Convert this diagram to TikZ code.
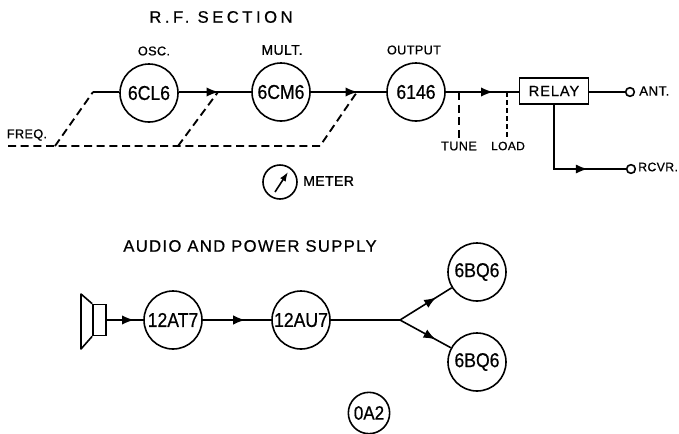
\documentclass[tikz,border=0pt]{standalone}
\usepackage{fontspec}
\setmainfont{Liberation Sans}
\newfontfamily\spaced[LetterSpace=8,FakeBold=0.6]{Liberation Sans}
\newfontfamily\spacedw[LetterSpace=21,FakeBold=0.6]{Liberation Sans}
\newfontfamily\spacedb[LetterSpace=6,FakeBold=0.6]{Liberation Sans}
\newfontfamily\narrowf[FakeStretch=0.88,FakeBold=0.6]{Liberation Sans}
\newfontfamily\labf[FakeBold=0.8,LetterSpace=3]{Liberation Sans}
\usetikzlibrary{arrows.meta,decorations.markings}
\tikzset{
  x=0.75pt,y=-0.75pt,
  tube/.style={draw,circle,line width=1.2pt,inner sep=0pt,minimum size=43.5pt,font=\narrowf\fontsize{15}{15}\selectfont},
  smalltube/.style={tube,minimum size=31pt,font=\narrowf\fontsize{14.5}{15}\selectfont},
  term/.style={draw,circle,line width=1.2pt,inner sep=0pt,minimum size=6.5pt},
  box/.style={draw,line width=1.2pt,inner sep=0pt,minimum width=52pt,minimum height=19.5pt,font=\spacedb\fontsize{11}{11}\selectfont},
  lab/.style={inner sep=0pt,font=\labf\fontsize{9.5}{10}\selectfont},
  side/.style={lab,anchor=west,font=\labf\fontsize{10}{10}\selectfont},
  title/.style={inner sep=0pt,font=\spaced\fontsize{12.5}{13}\selectfont},
  wire/.style={line width=1.2pt},
  ctrl/.style={line width=1.4pt,dash pattern=on 6pt off 3.5pt},
  mid/.style={postaction={decorate},decoration={markings,mark=at position #1 with {\arrow{Latex[length=9pt,width=7pt]}}}}
}
\begin{document}
\begin{tikzpicture}
\useasboundingbox (0,0) rectangle (679,433);
\node[title,font=\spacedw\fontsize{12.5}{13}\selectfont] (t1) at (221,17) {R.F. SECTION};
\node[title] (t2) at (250,246) {AUDIO AND POWER SUPPLY};
\node[lab] (losc) at (154,51) {OSC.};
\node[lab,font=\labf\fontsize{10.5}{10}\selectfont] (lmult) at (282,50) {MULT.};
\node[lab] (lout) at (414,50) {OUTPUT};
\node[lab] (lfreq) at (27,135) {FREQ.};
\node[tube] (a) at (149,93) {6CL6};
\node[tube] (b) at (281,92) {6CM6};
\node[tube] (c) at (416,92) {6146};
\node[box] (relay) at (554,91) {RELAY};
\node[term] (ant) at (630,92) {};
\node[term] (rcvr) at (631,169) {};
\node[side] (lant) at (639,91) {ANT.};
\node[side,font=\labf\fontsize{9.2}{10}\selectfont] (lrcvr) at (638,167) {RCVR.};
\node[lab] (ltune) at (459,146) {TUNE};
\node[lab,font=\labf\fontsize{9}{10}\selectfont] (lload) at (508,146) {LOAD};
\coordinate (f0) at (8,146);
\coordinate (f1) at (55,146);
\coordinate (f2) at (178,146);
\coordinate (f3) at (320,146);
\coordinate (j1) at (93,92);
\coordinate (j2) at (218,92);
\coordinate (j3) at (357,92);
\coordinate (jt) at (459,92);
\coordinate (jl) at (507,92);
\coordinate (rt) at (554,169);
\draw[wire] (j1) -- (a.west |- j1);
\draw[wire,mid=0.55] (a.east |- j2) -- (b.west |- j2);
\draw[wire,mid=0.62] (b.east) -- (c.west);
\draw[wire,mid=0.65] (c.east) -- (c.east -| relay.west);
\draw[wire] (relay.east |- ant) -- (ant);
\draw[wire,line width=1.5pt,mid=0.72] (relay.south) -- (rt) -- (rcvr);
\draw[ctrl] (f0) -- (f3) -- (j3);
\draw[ctrl] (f1) -- (j1);
\draw[ctrl] (f2) -- (j2);
\draw[ctrl] (jt) -- ([yshift=2pt]ltune.north -| jt);
\draw[ctrl,dash pattern=on 4pt off 2pt] (jl) -- ([yshift=2pt]lload.north -| jl);
\node[draw,circle,line width=1.2pt,inner sep=0pt,minimum size=25.5pt] (m) at (280,182) {};
\coordinate (m1) at (275,192);
\coordinate (m2) at (288,172);
\draw[wire,-{Latex[length=7pt,width=5pt]}] (m1) -- (m2);
\node[side,font=\labf\fontsize{10.5}{10}\selectfont] (lm) at (303,181) {METER};
\node[tube] (d) at (173,320) {12AT7};
\node[tube] (e) at (301,320) {12AU7};
\node[tube] (g) at (477,272) {6BQ6};
\node[tube] (h) at (477,362) {6BQ6};
\node[smalltube] (i) at (369,413) {0A2};
\node[draw,line width=1.2pt,minimum width=9.75pt,minimum height=23.25pt,inner sep=0pt] (spk) at (99.5,320) {};
\coordinate (s1) at (81,294);
\coordinate (s2) at (81,349);
\draw[wire,line join=round] (spk.north west) -- (s1) -- (s2) -- (spk.south west);
\coordinate (y) at (400,320);
\draw[wire,mid=0.75] (spk.east) -- (d.west);
\draw[wire,mid=0.62] (d.east) -- (e.west);
\draw[wire] (e.east) -- (y);
\draw[wire,mid=0.7] (y) -- (g);
\draw[wire,mid=0.7] (y) -- (h);
\end{tikzpicture}
\end{document}
